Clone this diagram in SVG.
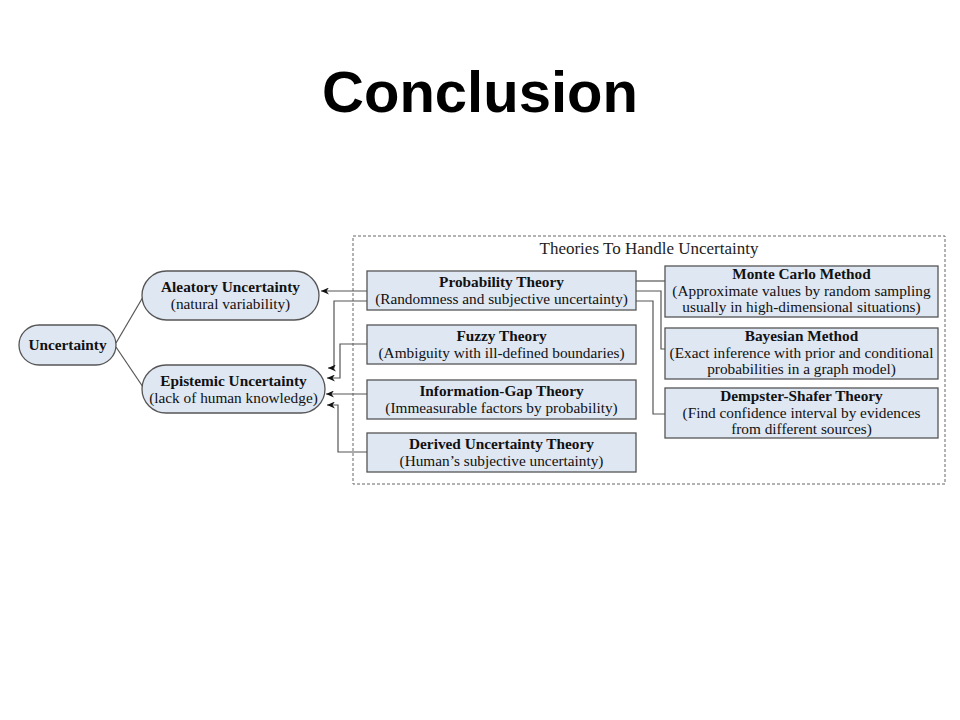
<svg xmlns="http://www.w3.org/2000/svg" width="960" height="720" viewBox="0 0 960 720">
<style>
.t{font-family:"Liberation Serif","Times New Roman",serif;font-size:15.3px;fill:#111;text-anchor:middle}
.b{font-weight:bold}
.ttl{font-family:"Liberation Serif","Times New Roman",serif;font-size:17px;fill:#222;text-anchor:middle}
.box{fill:#dfe7f3;stroke:#555;stroke-width:1.3}
.conn{fill:none;stroke:#555;stroke-width:1.2}
</style>
<defs>
<marker id="ah" markerWidth="9" markerHeight="7" refX="8" refY="3.5" orient="auto" markerUnits="userSpaceOnUse">
<path d="M0,0 L8,3.5 L0,7 L2.5,3.5 z" fill="#111"/>
</marker>
</defs>
<rect width="960" height="720" fill="#fff"/>
<text x="480" y="112" font-family="'Liberation Sans',Arial,sans-serif" font-size="58" font-weight="bold" text-anchor="middle" fill="#000">Conclusion</text>

<g id="frame">
<rect x="353" y="236" width="592" height="248" fill="none" stroke="#666" stroke-width="1" stroke-dasharray="3,2"/>
<text class="ttl" x="649" y="254">Theories To Handle Uncertainty</text>
</g>

<g id="connectors">
<path class="conn" d="M116,343 L143,297"/>
<path class="conn" d="M116,347 L143,387"/>
<path class="conn" d="M367,291 H321" marker-end="url(#ah)"/>
<path class="conn" d="M367,301 H334 V368 H328" marker-end="url(#ah)"/>
<path class="conn" d="M367,344 H340 V378 H327" marker-end="url(#ah)"/>
<path class="conn" d="M367,394 H326" marker-end="url(#ah)"/>
<path class="conn" d="M367,452 H338 V405 H327" marker-end="url(#ah)"/>
<path class="conn" d="M636,281 H665"/>
<path class="conn" d="M636,291 H661 V349 H665"/>
<path class="conn" d="M636,301 H653 V414 H665"/>
</g>

<g id="uncertainty">
<rect class="box" x="19" y="325" width="97" height="40" rx="20"/>
<text class="t b" x="67.5" y="350">Uncertainty</text>
</g>
<g id="aleatory">
<rect class="box" x="142" y="271" width="177" height="49" rx="24.5"/>
<text class="t b" x="230.5" y="292">Aleatory Uncertainty</text>
<text class="t" x="230.5" y="309">(natural variability)</text>
</g>
<g id="epistemic">
<rect class="box" x="142" y="365" width="183" height="48" rx="24"/>
<text class="t b" x="233.5" y="386">Epistemic Uncertainty</text>
<text class="t" x="233.5" y="403">(lack of human knowledge)</text>
</g>

<g id="probability">
<rect class="box" x="367" y="271" width="269" height="39"/>
<text class="t b" x="501.5" y="287">Probability Theory</text>
<text class="t" x="501.5" y="304">(Randomness and subjective uncertainty)</text>
</g>
<g id="fuzzy">
<rect class="box" x="367" y="325" width="269" height="39"/>
<text class="t b" x="501.5" y="341">Fuzzy Theory</text>
<text class="t" x="501.5" y="358">(Ambiguity with ill-defined boundaries)</text>
</g>
<g id="infogap">
<rect class="box" x="367" y="380" width="269" height="39"/>
<text class="t b" x="501.5" y="396">Information-Gap Theory</text>
<text class="t" x="501.5" y="413">(Immeasurable factors by probability)</text>
</g>
<g id="derived">
<rect class="box" x="367" y="433" width="269" height="39"/>
<text class="t b" x="501.5" y="449">Derived Uncertainty Theory</text>
<text class="t" x="501.5" y="466">(Human’s subjective uncertainty)</text>
</g>

<g id="montecarlo">
<rect class="box" x="665" y="266" width="273" height="51"/>
<text class="t b" x="801.5" y="279">Monte Carlo Method</text>
<text class="t" x="801.5" y="296">(Approximate values by random sampling</text>
<text class="t" x="801.5" y="312">usually in high-dimensional situations)</text>
</g>
<g id="bayesian">
<rect class="box" x="665" y="328" width="273" height="51"/>
<text class="t b" x="801.5" y="341">Bayesian Method</text>
<text class="t" x="801.5" y="358">(Exact inference with prior and conditional</text>
<text class="t" x="801.5" y="374">probabilities in a graph model)</text>
</g>
<g id="dempster">
<rect class="box" x="665" y="388" width="273" height="50"/>
<text class="t b" x="801.5" y="401">Dempster-Shafer Theory</text>
<text class="t" x="801.5" y="418">(Find confidence interval by evidences</text>
<text class="t" x="801.5" y="434">from different sources)</text>
</g>
</svg>
